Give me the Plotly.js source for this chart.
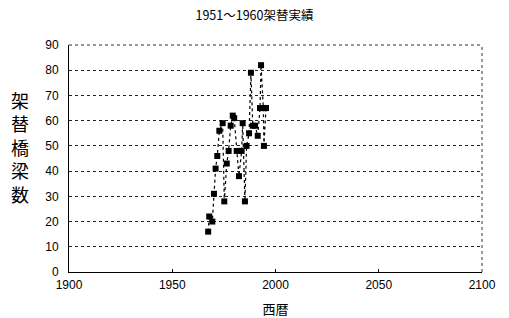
<!DOCTYPE html>
<html>
<head>
<meta charset="utf-8">
<script src="https://cdn.plot.ly/plotly-3.0.1.min.js"></script>
<style>html,body{margin:0;padding:0;background:#fff;}#chart{width:509px;height:318px;}</style>
</head>
<body>
<div id="chart"></div>
<script>
const years = [1967.4, 1967.9, 1969.4, 1970.2, 1971.0, 1971.8, 1972.8, 1974.4, 1975.2, 1976.4, 1977.3, 1978.3, 1979.3, 1980.0, 1981.2, 1982.3, 1983.6, 1984.1, 1985.2, 1986.0, 1987.2, 1988.1, 1989.0, 1990.1, 1991.4, 1992.5, 1993.0, 1994.1, 1994.4, 1995.4];
const counts = [16, 22, 20, 31, 41, 46, 56, 59, 28, 43, 48, 58, 62, 61, 48, 38, 48, 59, 28, 50, 55, 79, 58, 58, 54, 65, 82, 65, 50, 65];
const xTicks = [1900, 1950, 2000, 2050, 2100];
const yTicks = [0, 10, 20, 30, 40, 50, 60, 70, 80, 90];
const titleText = '1951～1960架替実績';
const yTitle = '架替橋梁数';
const xTitle = '西暦';

const font = 'Liberation Sans, Arial, sans-serif';
const cjk = 'Noto Sans CJK JP, ' + font;
const trace = {
  x: years, y: counts, type: 'scatter', mode: 'lines+markers',
  line: {color: '#000', width: 1.2, dash: 'dot'},
  marker: {color: '#000', size: 6, symbol: 'square'},
  hoverinfo: 'skip'
};
const layout = {
  width: 509, height: 318,
  margin: {l: 69, r: 27, t: 45, b: 46},
  paper_bgcolor: '#fff', plot_bgcolor: '#fff',
  showlegend: false,
  title: {text: titleText, font: {family: cjk, size: 12.5, color: '#000'}, x: 0.5, xanchor: 'center', y: 0.95, yanchor: 'middle'},
  xaxis: {
    range: [1900, 2100], tickvals: xTicks, ticktext: xTicks.map(String),
    showgrid: false, zeroline: false,
    showline: true, linecolor: '#000', linewidth: 1, mirror: false,
    ticks: 'inside', ticklen: 3, tickcolor: '#000',
    tickfont: {family: font, size: 12, color: '#000'},
    ticklabelstandoff: 2,
    title: {text: xTitle, font: {family: cjk, size: 13, color: '#000'}, standoff: 15}
  },
  yaxis: {
    range: [0, 90], tickvals: yTicks, ticktext: yTicks.map(String),
    showgrid: true, gridcolor: '#222', gridwidth: 1, griddash: '3px,3px',
    zeroline: false,
    showline: true, linecolor: '#000', linewidth: 1, mirror: false,
    ticks: '', ticklabelstandoff: 7,
    tickfont: {family: font, size: 12, color: '#000'}
  },
  shapes: [
    {type: 'line', xref: 'paper', yref: 'paper', x0: 0, x1: 1, y0: 1, y1: 1, line: {color: '#333', width: 1, dash: 'dot'}},
    {type: 'line', xref: 'paper', yref: 'paper', x0: 1, x1: 1, y0: 0, y1: 1, line: {color: '#333', width: 1, dash: 'dot'}}
  ],
  annotations: [
    {text: yTitle.split('').join('<br>'), xref: 'paper', yref: 'paper', x: -0.119, y: 0.55, xanchor: 'center', yanchor: 'middle', showarrow: false, font: {family: cjk, size: 18, color: '#000'}}
  ]
};
Plotly.newPlot('chart', [trace], layout, {staticPlot: true, displayModeBar: false});
</script>
</body>
</html>
